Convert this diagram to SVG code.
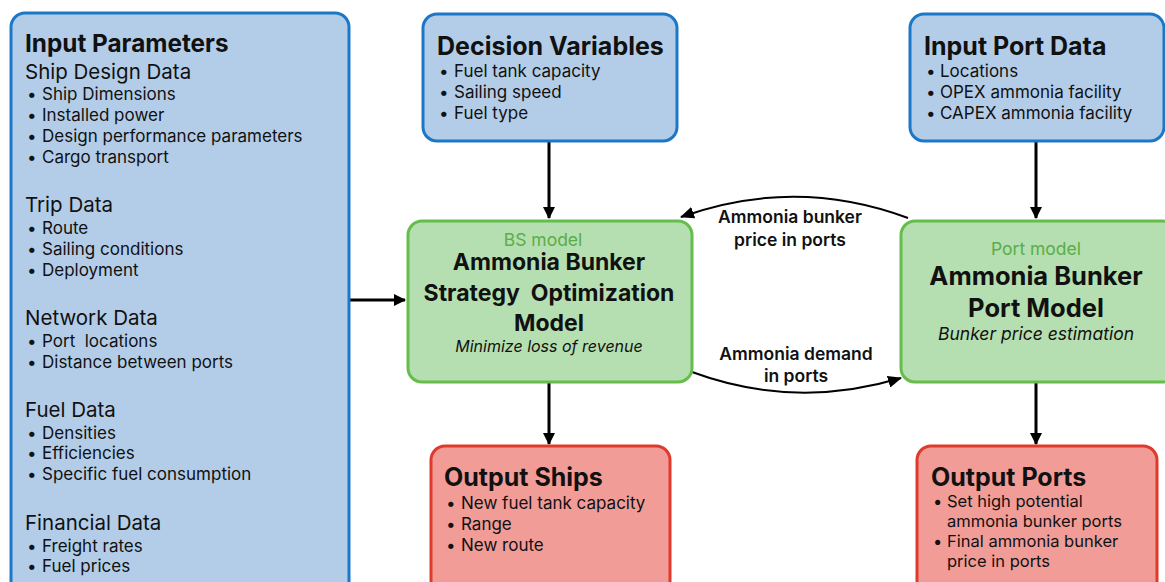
<svg xmlns="http://www.w3.org/2000/svg" width="1165" height="582" viewBox="0 0 1165 582">
<style>
text{font-family:Inter,"Liberation Sans",sans-serif;fill:#111}
.blue{fill:#b3cde8;stroke:#1c78c6;stroke-width:3}
.green{fill:#b5dfb0;stroke:#67bd4c;stroke-width:3}
.red{fill:#f19c97;stroke:#df3a2c;stroke-width:3}
.t{font-size:25px;font-weight:700}
.h{font-size:20.5px}
.b{font-size:17px}
.sub{font-size:17.5px;fill:#5aad48}
.it{font-size:16px;font-style:italic}
.lbl{font-size:17.5px;font-weight:600;text-anchor:middle}
.c{text-anchor:middle}
.ln{fill:none;stroke:#000;stroke-width:3}
.cv{fill:none;stroke:#000;stroke-width:2}
</style>
<defs>
<marker id="ah" markerWidth="12" markerHeight="12" viewBox="0 0 12 12" refX="11" refY="6" orient="auto" markerUnits="userSpaceOnUse"><path d="M0,0 L12,6 L0,12 z" fill="#000"/></marker>
<marker id="ah2" markerWidth="14" markerHeight="12" viewBox="0 0 14 12" refX="13" refY="6" orient="auto" markerUnits="userSpaceOnUse"><path d="M0,0 L14,6 L0,12 z" fill="#000"/></marker>
</defs>
<rect width="1165" height="582" fill="#fff"/>
<g id="connectors">
<path class="ln" d="M549 142 V218" marker-end="url(#ah)"/>
<path class="ln" d="M1036 142 V218" marker-end="url(#ah)"/>
<path class="ln" d="M549 383 V444" marker-end="url(#ah)"/>
<path class="ln" d="M1036 383 V444" marker-end="url(#ah)"/>
<path class="ln" d="M350 300 H405" marker-end="url(#ah)"/>
<path class="cv" d="M908 218 Q795 176 681 217" marker-end="url(#ah2)"/>
<path class="cv" d="M692 372 Q795 410 901 378" marker-end="url(#ah2)"/>
</g>
<g id="input-parameters">
<rect class="blue" x="11" y="13" width="338" height="590" rx="14"/>
<text class="t" x="25" y="52" style="font-size:24.3px">Input Parameters</text>
<text class="h" x="25" y="79">Ship Design Data</text>
<text class="b" x="27" y="100">•</text><text class="b" x="42" y="100">Ship Dimensions</text>
<text class="b" x="27" y="121">•</text><text class="b" x="42" y="121">Installed power</text>
<text class="b" x="27" y="142">•</text><text class="b" x="42" y="142">Design performance parameters</text>
<text class="b" x="27" y="163">•</text><text class="b" x="42" y="163">Cargo transport</text>
<text class="h" x="25" y="212">Trip Data</text>
<text class="b" x="27" y="234">•</text><text class="b" x="42" y="234">Route</text>
<text class="b" x="27" y="255">•</text><text class="b" x="42" y="255">Sailing conditions</text>
<text class="b" x="27" y="276">•</text><text class="b" x="42" y="276">Deployment</text>
<text class="h" x="25" y="325">Network Data</text>
<text class="b" x="27" y="347">•</text><text class="b" x="42" y="347" xml:space="preserve">Port  locations</text>
<text class="b" x="27" y="368">•</text><text class="b" x="42" y="368">Distance between ports</text>
<text class="h" x="25" y="417">Fuel Data</text>
<text class="b" x="27" y="439">•</text><text class="b" x="42" y="439">Densities</text>
<text class="b" x="27" y="459">•</text><text class="b" x="42" y="459">Efficiencies</text>
<text class="b" x="27" y="480">•</text><text class="b" x="42" y="480">Specific fuel consumption</text>
<text class="h" x="25" y="530">Financial Data</text>
<text class="b" x="27" y="552">•</text><text class="b" x="42" y="552">Freight rates</text>
<text class="b" x="27" y="572">•</text><text class="b" x="42" y="572">Fuel prices</text>
</g>
<g id="decision-variables">
<rect class="blue" x="423" y="14" width="254" height="127" rx="14"/>
<text class="t" x="437" y="55">Decision Variables</text>
<text class="b" x="439" y="77">•</text><text class="b" x="454" y="77">Fuel tank capacity</text>
<text class="b" x="439" y="98">•</text><text class="b" x="454" y="98">Sailing speed</text>
<text class="b" x="439" y="119">•</text><text class="b" x="454" y="119">Fuel type</text>
</g>
<g id="input-port-data">
<rect class="blue" x="910" y="14" width="254" height="127" rx="14"/>
<text class="t" x="924" y="55">Input Port Data</text>
<text class="b" x="926" y="77">•</text><text class="b" x="940" y="77">Locations</text>
<text class="b" x="926" y="98">•</text><text class="b" x="940" y="98">OPEX ammonia facility</text>
<text class="b" x="926" y="119">•</text><text class="b" x="940" y="119">CAPEX ammonia facility</text>
</g>
<g id="bs-model">
<rect class="green" x="408" y="221" width="284" height="161" rx="14"/>
<text class="sub c" x="543" y="246">BS model</text>
<text class="t c" x="549" y="270" style="font-size:23px">Ammonia Bunker</text>
<text class="t c" x="549" y="301" style="font-size:23px" xml:space="preserve">Strategy  Optimization</text>
<text class="t c" x="549" y="331" style="font-size:23px">Model</text>
<text class="it c" x="549" y="352">Minimize loss of revenue</text>
</g>
<g id="port-model">
<rect class="green" x="901" y="221" width="275" height="161" rx="14"/>
<text class="sub c" x="1036" y="255">Port model</text>
<text class="t c" x="1036" y="285" style="font-size:25.5px">Ammonia Bunker</text>
<text class="t c" x="1036" y="317" style="font-size:25.5px">Port Model</text>
<text class="it c" x="1036" y="340" style="font-size:17.5px">Bunker price estimation</text>
</g>
<g id="edge-labels">
<text class="lbl" x="790" y="223">Ammonia bunker</text>
<text class="lbl" x="790" y="246">price in ports</text>
<text class="lbl" x="796" y="360">Ammonia demand</text>
<text class="lbl" x="796" y="382">in ports</text>
</g>
<g id="output-ships">
<rect class="red" x="431" y="446" width="239" height="160" rx="14"/>
<text class="t" x="444" y="486">Output Ships</text>
<text class="b" x="446" y="509">•</text><text class="b" x="461" y="509">New fuel tank capacity</text>
<text class="b" x="446" y="530">•</text><text class="b" x="461" y="530">Range</text>
<text class="b" x="446" y="551">•</text><text class="b" x="461" y="551">New route</text>
</g>
<g id="output-ports">
<rect class="red" x="917" y="446" width="240" height="160" rx="14"/>
<text class="t" x="931" y="486">Output Ports</text>
<text class="b" x="933" y="507" style="font-size:16.5px">•</text><text class="b" x="947" y="507" style="font-size:16.5px">Set high potential</text>
<text class="b" x="947" y="527" style="font-size:16.5px">ammonia bunker ports</text>
<text class="b" x="933" y="547" style="font-size:16.5px">•</text><text class="b" x="947" y="547" style="font-size:16.5px">Final ammonia bunker</text>
<text class="b" x="947" y="567" style="font-size:16.5px">price in ports</text>
</g>
</svg>
